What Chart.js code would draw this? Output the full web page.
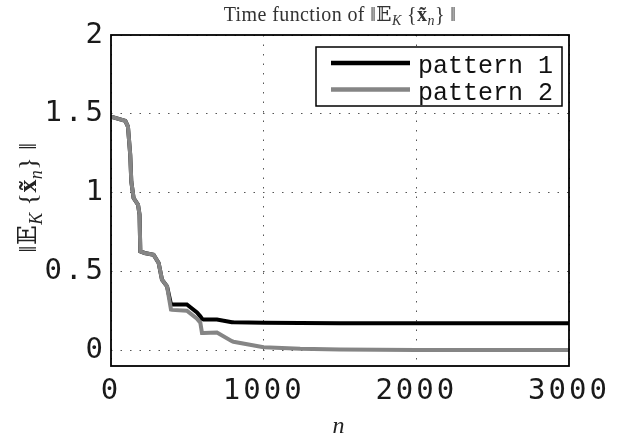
<!DOCTYPE html>
<html>
<head>
<meta charset="utf-8">
<script src="https://cdn.jsdelivr.net/npm/chart.js@4/dist/chart.umd.min.js"></script>
<style>
  html, body { margin: 0; padding: 0; background: #fff; }
  #wrap { width: 631px; height: 441px; position: relative; }
</style>
</head>
<body>
<div id="wrap"><canvas id="timeChart" width="631" height="441"></canvas></div>
<script>
// iteration index n (shared by both patterns)
var nValues = [0, 94, 111, 126, 133, 148, 177, 187, 192, 220, 279, 312, 334, 367, 393, 400, 497, 563, 585, 596, 606, 694, 792, 802, 1000, 1239, 1500, 2000, 2500, 3000];
// ||E_K{x_n}|| for each pattern
var pattern1 = [1.482, 1.455, 1.419, 1.24, 1.07, 0.965, 0.923, 0.86, 0.627, 0.617, 0.606, 0.554, 0.448, 0.405, 0.29, 0.29, 0.29, 0.24, 0.215, 0.2, 0.195, 0.195, 0.178, 0.177, 0.174, 0.173, 0.172, 0.172, 0.172, 0.172];
var pattern2 = [1.482, 1.455, 1.419, 1.24, 1.07, 0.965, 0.923, 0.86, 0.627, 0.617, 0.606, 0.554, 0.448, 0.405, 0.258, 0.256, 0.251, 0.2, 0.175, 0.11, 0.11, 0.112, 0.057, 0.054, 0.019, 0.009, 0.004, 0.002, 0.001, 0.001];
var seriesNames = ['pattern 1', 'pattern 2'];
var xTicks = [0, 1000, 2000, 3000];
var yTicks = [0, 0.5, 1, 1.5, 2];

// title / axis label pieces (sub = subscript)
var titleParts = [
    { t: 'Time function of \u2016\uD835\uDD3C' }, { t: 'K', sub: true, italic: true },
    { t: ' {' }, { t: 'x\u0303', bold: true }, { t: 'n', sub: true, italic: true }, { t: '} \u2016' }
];
var yLabelParts = [
    { t: '\u2016\uD835\uDD3C' }, { t: 'K', sub: true, italic: true },
    { t: ' {' }, { t: 'x\u0303', bold: true }, { t: 'n', sub: true, italic: true }, { t: '} \u2016' }
];

function toPoints(arr) {
    return arr.map(function (v, i) { return { x: nValues[i], y: v }; });
}

function richFont(p, size) {
    var s = p.sub ? Math.round(size * 0.7) : size;
    return (p.italic ? 'italic ' : '') + (p.bold ? 'bold ' : '') + s + 'px "Liberation Serif", "DejaVu Serif", serif';
}

function drawRich(ctx, parts, x, y, size) {
    var total = 0;
    parts.forEach(function (p) { ctx.font = richFont(p, size); total += ctx.measureText(p.t).width; });
    var cx = x - total / 2;
    ctx.textAlign = 'left';
    ctx.textBaseline = 'alphabetic';
    parts.forEach(function (p) {
        ctx.font = richFont(p, size);
        ctx.fillText(p.t, cx, p.sub ? y + size * 0.22 : y);
        cx += ctx.measureText(p.t).width;
    });
}

var matlabLook = {
    id: 'matlabLook',
    beforeDraw: function (chart) {
        chart.ctx.letterSpacing = '3px';
    },
    afterDraw: function (chart) {
        var ctx = chart.ctx, a = chart.chartArea;
        ctx.save();
        ctx.letterSpacing = '0px';
        // axes box
        ctx.strokeStyle = '#000';
        ctx.lineWidth = 1.8;
        ctx.strokeRect(a.left, a.top, a.right - a.left, a.bottom - a.top);

        // title and y label
        ctx.fillStyle = '#333';
        ctx.letterSpacing = '0.4px';
        drawRich(ctx, titleParts, (a.left + a.right) / 2, 21, 20);
        ctx.save();
        ctx.translate(36, (a.top + a.bottom) / 2 - 3);
        ctx.rotate(-Math.PI / 2);
        ctx.fillStyle = '#222';
        drawRich(ctx, yLabelParts, 0, 0, 26);
        ctx.restore();
        ctx.letterSpacing = '0px';

        // legend box
        var lx = 316, ly = 47, lw = 246, lh = 59;
        ctx.fillStyle = '#fff';
        ctx.fillRect(lx, ly, lw, lh);
        ctx.strokeStyle = '#000';
        ctx.lineWidth = 1.5;
        ctx.strokeRect(lx, ly, lw, lh);
        ctx.font = '25px "Liberation Mono", monospace';
        ctx.textAlign = 'left';
        ctx.textBaseline = 'alphabetic';
        chart.data.datasets.forEach(function (ds, i) {
            var yy = ly + 16 + i * 26.5;
            ctx.strokeStyle = ds.borderColor;
            ctx.lineWidth = 4.5;
            ctx.beginPath();
            ctx.moveTo(lx + 15, yy);
            ctx.lineTo(lx + 94, yy);
            ctx.stroke();
            ctx.fillStyle = '#111';
            ctx.fillText(ds.label, lx + 102, yy + 10);
        });
        ctx.restore();
    }
};

var tickFont = { family: '"DejaVu Sans Mono", monospace', size: 29 };

new Chart(document.getElementById('timeChart'), {
    type: 'line',
    data: {
        datasets: [{
            label: seriesNames[0],
            data: toPoints(pattern1),
            borderColor: '#000000',
            borderWidth: 4,
            pointRadius: 0,
            tension: 0,
            order: 1
        }, {
            label: seriesNames[1],
            data: toPoints(pattern2),
            borderColor: '#858585',
            borderWidth: 4,
            pointRadius: 0,
            tension: 0,
            order: 0
        }]
    },
    options: {
        responsive: false,
        animation: false,
        layout: { padding: { top: 35, right: 62, left: 0, bottom: 0 } },
        plugins: {
            legend: { display: false },
            title: { display: false },
            tooltip: { enabled: false }
        },
        scales: {
            x: {
                type: 'linear',
                min: 0,
                max: 3000,
                afterBuildTicks: function (s) { s.ticks = xTicks.map(function (v) { return { value: v }; }); },
                afterFit: function (s) { s.height = 75; },
                ticks: { font: tickFont, color: '#1a1a1a', padding: 8, maxRotation: 0, callback: function (v) { return String(v); } },
                grid: { color: '#555', lineWidth: 1, drawTicks: false },
                border: { display: false, dash: [1.5, 8] },
                title: { display: true, text: 'n', color: '#222', padding: 0, font: { family: '"Liberation Serif", serif', size: 24, style: 'italic' } }
            },
            y: {
                min: -0.1,
                max: 2,
                afterBuildTicks: function (s) { s.ticks = yTicks.map(function (v) { return { value: v }; }); },
                afterFit: function (s) { s.width = 111; },
                ticks: { font: tickFont, color: '#1a1a1a', padding: 5, callback: function (v) { return String(v); } },
                grid: { color: '#555', lineWidth: 1, drawTicks: false },
                border: { display: false, dash: [1.5, 8] }
            }
        }
    },
    plugins: [matlabLook]
});
</script>
</body>
</html>
